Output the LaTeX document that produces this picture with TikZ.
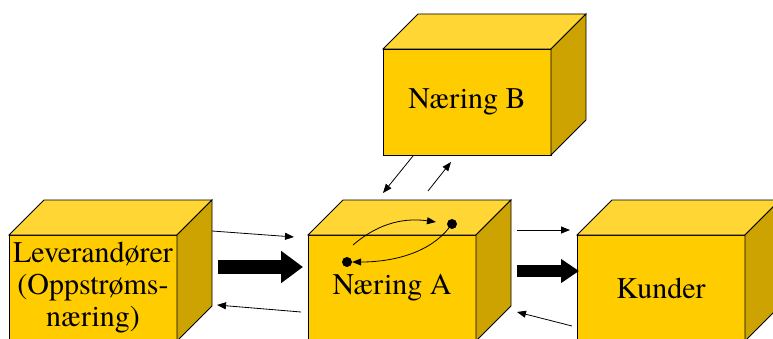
\documentclass[tikz,border=0pt]{standalone}
\usepackage{fontspec}
\setmainfont{texgyretermes-regular.otf}
\usetikzlibrary{arrows.meta}
\definecolor{cfront}{HTML}{FFCC00}
\definecolor{ctop}{HTML}{FFD633}
\definecolor{cside}{HTML}{CCA300}
\begin{document}
\begin{tikzpicture}[x=1pt,y=-1pt,
  front/.style={draw=black, line width=0.8pt, fill=cfront, minimum width=168pt, minimum height=106pt,
    inner sep=0pt, outer sep=0pt, anchor=north west, align=center,
    font=\rmfamily\fontsize{30}{32}\selectfont},
  topface/.style={draw=black, line width=0.8pt, fill=ctop, line join=miter},
  sideface/.style={draw=black, line width=0.8pt, fill=cside, line join=miter},
  thin/.style={line width=0.8pt, -{Triangle[length=9pt,width=7pt]}},
  thick/.style={line width=14pt, -{Triangle[length=22pt,width=31pt]}},
  dot/.style={circle, fill=black, minimum size=10pt, inner sep=0pt}]
\useasboundingbox (0,0) rectangle (773,339);
\clip (0,0) rectangle (773,339);
\newcommand\cubefaces[1]{%
  \path[topface] (#1.north west) -- ++(35,-35) -- ++(168,0) -- (#1.north east) -- cycle;
  \path[sideface] (#1.north east) -- ++(35,-35) -- ++(0,106) -- (#1.south east) -- cycle;}
% boxes
\node[front] (lev) at (9,235) {Leverandører\\(Oppstrøms-\\næring)};
\cubefaces{lev}
\node[front] (na) at (308,235) {Næring A};
\cubefaces{na}
\node[front] (ku) at (577,235) {Kunder};
\cubefaces{ku}
\node[front] (nb) at (383,49) {Næring B};
\cubefaces{nb}
% connector points
\coordinate (l1s) at (212,231); \coordinate (l1e) at (294,237);
\coordinate (l2s) at (218,267); \coordinate (l2e) at (303,267);
\coordinate (l3s) at (301,312); \coordinate (l3e) at (217,305);
\coordinate (k1s) at (517,230); \coordinate (k1e) at (570,230);
\coordinate (k2s) at (517,271); \coordinate (k2e) at (579,271);
\coordinate (k3s) at (572,326); \coordinate (k3e) at (517,312);
\coordinate (b1s) at (413,156); \coordinate (b1e) at (383,193);
\coordinate (b2s) at (428,191); \coordinate (b2e) at (451,162);
\draw[thin] (l1s) -- (l1e);
\draw[thick] (l2s) -- (l2e);
\draw[thin] (l3s) -- (l3e);
\draw[thin] (k1s) -- (k1e);
\draw[thick, line width=12pt, -{Triangle[length=18pt,width=23pt]}] (k2s) -- (k2e);
\draw[thin] (k3s) -- (k3e);
\draw[thin] (b1s) -- (b1e);
\draw[thin] (b2s) -- (b2e);
% internal flows
\node[dot] (d1) at (452,224) {};
\node[dot] (d2) at (347,262) {};
\coordinate (c1s) at (353,245); \coordinate (c1e) at (436,222);
\draw[thin] (c1s) .. controls (375,226) and (400,217) .. (c1e);
\draw[thin] (d1) .. controls (430,252) and (395,262) .. (d2);
\end{tikzpicture}
\end{document}
